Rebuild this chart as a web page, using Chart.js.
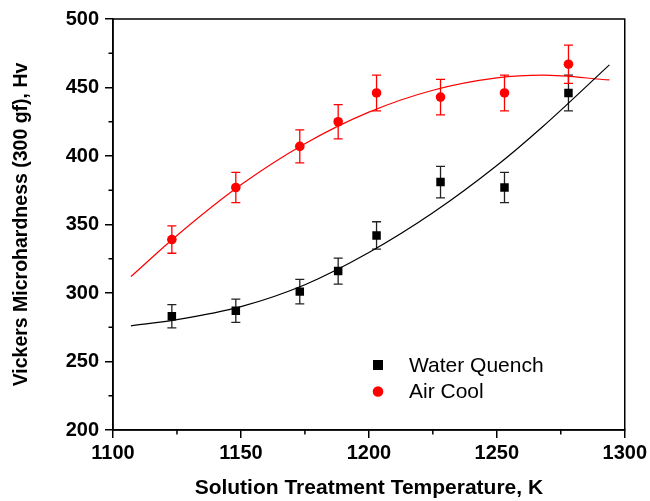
<!DOCTYPE html>
<html lang="en">
<head>
<meta charset="UTF-8">
<title>Vickers Microhardness vs Solution Treatment Temperature</title>
<script src="https://cdn.jsdelivr.net/npm/chart.js"></script>
<style>
  body { margin: 0; background: #fff; }
</style>
</head>
<body>
<canvas id="hardnessChart" width="650" height="501"></canvas>
<script>
  // measured points (K, Hv) with error half-widths
  const temps = [1123, 1148, 1173, 1188, 1203, 1228, 1253, 1278]
  const waterHv = [283, 287, 301, 316, 342, 381, 377, 446]
  const waterErr = [8.5, 8.5, 9, 9.5, 10, 11.5, 11, 13]
  const airHv = [339, 377, 407, 425, 446, 443, 446, 467]
  const airErr = [10, 11, 12, 12.5, 13, 13, 13, 14]

  // fitted curves
  const fitTemps = [1107, 1125, 1150, 1175, 1200, 1225, 1250, 1268, 1294]
  const waterFit = [276, 280.5, 290, 306, 329.5, 358.5, 393, 421.5, 466.5]
  const airFit = [312, 342, 379, 409, 432, 448, 457, 459, 455.5]

  // axis ticks
  const xTicks = [1100, 1150, 1200, 1250, 1300]
  const xMinor = [1125, 1175, 1225, 1275]
  const yTicks = [200, 250, 300, 350, 400, 450, 500]
  const yMinor = [225, 275, 325, 375, 425, 475]

  const FONT = "'Liberation Sans', Arial, sans-serif"
  Chart.defaults.font.family = FONT
  Chart.defaults.color = '#000'

  const toXY = (xs, ys) => xs.map((x, i) => ({ x: x, y: ys[i] }))

  const errorBars = {
    id: 'errorBars',
    beforeDatasetsDraw(chart) {
      const { ctx, scales: { x, y } } = chart
      chart.data.datasets.forEach((ds) => {
        if (!ds.errors) return
        ctx.save()
        ctx.strokeStyle = ds.errorColor
        ctx.lineWidth = 1.3
        ds.data.forEach((p, i) => {
          const px = x.getPixelForValue(p.x)
          const top = y.getPixelForValue(p.y + ds.errors[i])
          const bot = y.getPixelForValue(p.y - ds.errors[i])
          ctx.beginPath()
          ctx.moveTo(px, top)
          ctx.lineTo(px, bot)
          ctx.moveTo(px - 4.5, top)
          ctx.lineTo(px + 4.5, top)
          ctx.moveTo(px - 4.5, bot)
          ctx.lineTo(px + 4.5, bot)
          ctx.stroke()
        })
        ctx.restore()
      })
    },
  }

  const frameAndLegend = {
    id: 'frameAndLegend',
    afterDraw(chart) {
      const { ctx, chartArea: a, scales: { x, y } } = chart
      ctx.save()
      ctx.strokeStyle = '#000'
      ctx.lineWidth = 1.5
      ctx.strokeRect(a.left, a.top, a.right - a.left, a.bottom - a.top)

      // minor ticks, outward
      ctx.beginPath()
      xMinor.forEach((v) => {
        const px = x.getPixelForValue(v)
        ctx.moveTo(px, a.bottom)
        ctx.lineTo(px, a.bottom + 4.5)
      })
      yMinor.forEach((v) => {
        const py = y.getPixelForValue(v)
        ctx.moveTo(a.left, py)
        ctx.lineTo(a.left - 4.5, py)
      })
      ctx.stroke()

      // legend
      const lx = a.left + 265
      const ly = a.top + 346
      ctx.font = '21px ' + FONT
      ctx.textBaseline = 'middle'
      ctx.textAlign = 'left'
      const items = chart.data.datasets.filter((d) => d.errors)
      items.forEach((d, i) => {
        const cy = ly + i * 26.5
        ctx.fillStyle = d.backgroundColor
        if (d.pointStyle === 'rect') {
          ctx.fillRect(lx - 5, cy - 5, 10, 10)
        } else {
          ctx.beginPath()
          ctx.arc(lx, cy, 5.3, 0, Math.PI * 2)
          ctx.fill()
        }
        ctx.fillStyle = '#000'
        ctx.fillText(d.label, lx + 31, cy + 1)
      })
      ctx.restore()
    },
  }

  const tickFont = { family: FONT, size: 20, weight: 'bold' }
  const plainNumber = (v) => String(v)

  new Chart(document.getElementById('hardnessChart'), {
    type: 'scatter',
    data: {
      datasets: [
        {
          label: 'Water Quench',
          data: toXY(temps, waterHv),
          errors: waterErr,
          errorColor: '#222',
          pointStyle: 'rect',
          pointRadius: 6,
          backgroundColor: '#000',
          borderColor: '#000',
          borderWidth: 0,
        },
        {
          label: 'Air Cool',
          data: toXY(temps, airHv),
          errors: airErr,
          errorColor: '#ff0000',
          pointStyle: 'circle',
          pointRadius: 4.8,
          backgroundColor: '#ff0000',
          borderColor: '#ff0000',
          borderWidth: 0,
        },
        {
          label: 'Water Quench fit',
          data: toXY(fitTemps, waterFit),
          showLine: true,
          pointRadius: 0,
          borderColor: '#000',
          borderWidth: 1.2,
          cubicInterpolationMode: 'monotone',
        },
        {
          label: 'Air Cool fit',
          data: toXY(fitTemps, airFit),
          showLine: true,
          pointRadius: 0,
          borderColor: '#ff0000',
          borderWidth: 1.2,
          cubicInterpolationMode: 'monotone',
        },
      ],
    },
    options: {
      responsive: false,
      animation: false,
      devicePixelRatio: 1,
      layout: { padding: { top: 19, right: 25, left: 0, bottom: 0 } },
      plugins: {
        legend: { display: false },
        tooltip: { enabled: false },
      },
      scales: {
        x: {
          type: 'linear',
          min: 1100,
          max: 1300,
          afterBuildTicks: (s) => { s.ticks = xTicks.map((v) => ({ value: v })) },
          afterFit: (s) => { s.height = 71 },
          ticks: { font: tickFont, color: '#000', padding: 3, maxRotation: 0, autoSkip: false, callback: plainNumber },
          grid: { drawOnChartArea: false, drawTicks: true, tickLength: 8, color: '#000', lineWidth: 1.5 },
          border: { display: true, color: '#000', width: 1.5 },
          title: {
            display: true,
            text: 'Solution Treatment Temperature, K',
            font: { family: FONT, size: 21, weight: 'bold' },
            color: '#000',
            padding: { top: 0, bottom: 0 },
          },
        },
        y: {
          type: 'linear',
          min: 200,
          max: 500,
          afterBuildTicks: (s) => { s.ticks = yTicks.map((v) => ({ value: v })) },
          afterFit: (s) => { s.width = 113 },
          ticks: { font: tickFont, color: '#000', padding: 6, autoSkip: false, callback: plainNumber },
          grid: { drawOnChartArea: false, drawTicks: true, tickLength: 8, color: '#000', lineWidth: 1.5 },
          border: { display: true, color: '#000', width: 1.5 },
          title: {
            display: true,
            text: 'Vickers Microhardness (300 gf), Hv',
            font: { family: FONT, size: 19.5, weight: 'bold' },
            color: '#000',
            padding: { top: 10, bottom: 0 },
          },
        },
      },
    },
    plugins: [errorBars, frameAndLegend],
  })
</script>
</body>
</html>
